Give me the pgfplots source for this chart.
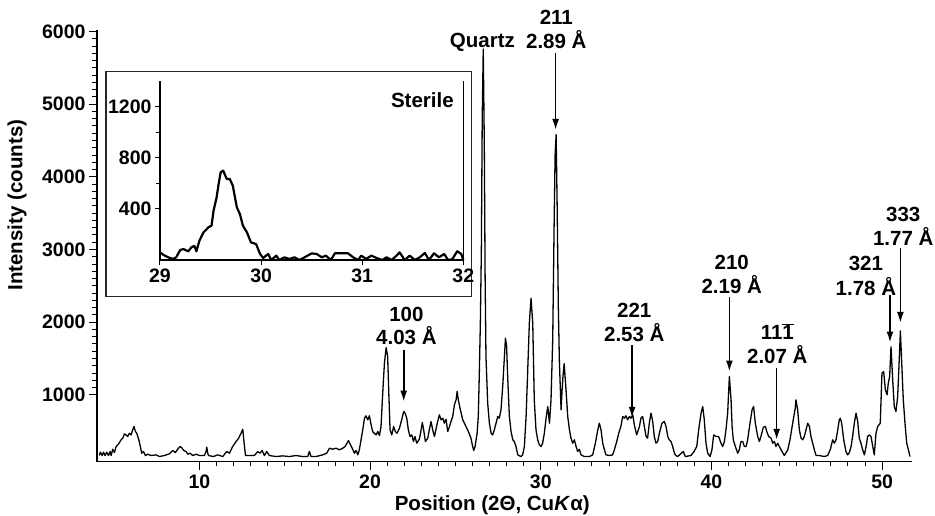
\documentclass[border=0pt]{standalone}
\usepackage{fontspec}
\setmainfont{Liberation Sans}
\usepackage{pgfplots}
\pgfplotsset{compat=1.18}
\usepackage{pgfplotstable}
\usetikzlibrary{arrows.meta}

% XRD pattern, 2theta (deg) vs counts
\pgfplotstableread{
x y
4.14 165
4.20 211
4.30 165
4.38 211
4.47 165
4.57 211
4.67 165
4.77 220
4.83 165
4.92 252
5.02 206
5.12 289
5.27 326
5.41 381
5.51 404
5.61 463
5.70 449
5.80 427
5.90 472
6.00 449
6.09 518
6.17 564
6.25 495
6.33 472
6.45 381
6.54 289
6.62 197
6.72 220
6.84 165
6.97 183
7.17 165
7.46 174
7.66 151
7.95 165
8.24 188
8.44 234
8.59 206
8.73 252
8.87 289
8.99 266
9.08 234
9.22 220
9.32 183
9.45 197
9.61 165
9.81 183
10.00 165
10.29 165
10.39 220
10.43 280
10.49 197
10.53 165
10.82 151
11.07 174
11.37 151
11.60 220
11.76 197
11.95 289
12.15 358
12.30 404
12.44 472
12.54 527
12.62 335
12.70 165
12.93 165
13.22 165
13.42 220
13.55 197
13.67 234
13.81 165
13.94 220
14.10 165
14.49 151
14.88 160
15.27 151
15.66 165
16.05 151
16.35 151
16.44 220
16.54 151
16.83 151
17.22 174
17.46 197
17.62 266
17.81 252
18.01 266
18.20 243
18.40 266
18.53 289
18.65 335
18.73 372
18.85 312
18.98 252
19.08 197
19.18 234
19.28 174
19.37 243
19.47 381
19.57 518
19.67 679
19.76 711
19.86 656
19.96 711
20.06 587
20.15 495
20.25 472
20.35 449
20.45 495
20.55 440
20.64 564
20.74 1023
20.84 1436
20.94 1650
21.03 1527
21.09 1069
21.17 518
21.27 449
21.38 564
21.48 495
21.58 472
21.72 541
21.85 656
21.97 771
22.05 748
22.15 679
22.24 518
22.34 427
22.44 449
22.54 358
22.63 427
22.73 335
22.89 390
22.99 518
23.06 619
23.14 518
23.24 358
23.38 404
23.47 518
23.57 633
23.67 518
23.77 427
23.86 527
23.96 633
24.06 725
24.16 656
24.26 679
24.35 610
24.45 665
24.55 495
24.65 564
24.74 633
24.84 702
24.94 862
25.04 931
25.10 1046
25.17 931
25.29 794
25.43 656
25.62 564
25.76 495
25.91 404
26.01 289
26.07 234
26.15 289
26.27 472
26.34 702
26.40 1298
26.46 1986
26.52 3000
26.57 4800
26.63 5760
26.69 4500
26.74 2600
26.79 1527
26.89 885
26.99 610
27.09 472
27.18 449
27.28 518
27.38 610
27.48 702
27.57 679
27.67 794
27.77 1115
27.87 1527
27.93 1780
28.00 1665
28.06 1252
28.16 702
28.26 495
28.36 381
28.45 358
28.55 289
28.65 174
28.84 151
28.94 174
29.04 289
29.14 702
29.23 1298
29.33 1986
29.43 2330
29.53 1986
29.62 931
29.72 518
29.82 381
29.92 312
30.02 289
30.11 335
30.21 472
30.31 679
30.41 839
30.51 610
30.60 931
30.70 1757
30.78 3300
30.84 4300
30.90 4580
30.96 3600
31.03 2200
31.09 1460
31.19 794
31.25 1069
31.30 1250
31.37 1430
31.48 1069
31.58 702
31.68 518
31.77 404
31.87 335
31.97 381
32.07 289
32.16 220
32.26 252
32.36 174
32.55 151
32.85 151
33.04 174
33.20 335
33.34 518
33.43 610
33.53 518
33.63 335
33.73 243
33.82 174
34.02 165
34.21 174
34.31 243
34.45 358
34.57 472
34.70 573
34.80 702
34.90 679
34.99 711
35.09 656
35.19 702
35.29 679
35.39 725
35.48 587
35.62 449
35.78 564
35.87 679
35.97 702
36.07 564
36.17 427
36.26 404
36.36 610
36.46 748
36.56 633
36.65 427
36.75 335
36.85 358
36.95 472
37.10 610
37.24 633
37.34 564
37.44 427
37.53 381
37.63 358
37.73 289
37.83 197
37.92 165
38.02 151
38.35 220
38.47 151
38.80 165
38.98 220
39.14 289
39.25 518
39.39 748
39.49 839
39.58 656
39.68 335
39.78 197
39.92 151
40.03 243
40.13 449
40.27 427
40.42 427
40.56 335
40.66 289
40.76 358
40.85 518
40.95 748
41.05 1250
41.15 931
41.21 564
41.28 381
41.40 289
41.54 197
41.63 243
41.73 358
41.83 358
41.93 289
42.03 289
42.12 381
42.26 610
42.38 794
42.47 839
42.57 610
42.71 427
42.81 358
42.90 427
43.04 555
43.16 564
43.24 495
43.35 427
43.49 404
43.59 335
43.69 358
43.78 289
43.88 335
43.98 289
44.08 243
44.27 165
44.47 243
44.60 381
44.76 610
44.91 817
44.95 931
45.05 794
45.15 518
45.25 404
45.35 381
45.44 427
45.54 518
45.64 610
45.74 564
45.83 427
45.93 335
46.03 243
46.13 165
46.32 165
46.61 151
46.81 165
46.97 252
47.10 381
47.20 335
47.30 381
47.40 518
47.49 656
47.55 679
47.63 610
47.75 381
47.88 220
47.98 174
48.08 206
48.18 289
48.27 427
48.37 610
48.47 748
48.57 633
48.66 404
48.76 335
48.86 243
48.96 174
49.06 289
49.15 427
49.25 449
49.35 427
49.45 289
49.54 174
49.64 472
49.74 564
49.89 610
49.99 1298
50.09 1321
50.19 1069
50.29 1000
50.36 1160
50.44 1252
50.52 1660
50.62 1206
50.71 839
50.81 771
50.91 977
51.01 1527
51.07 1880
51.14 1482
51.24 931
51.34 610
51.44 335
51.54 243
51.63 151
}\xrd

% inset: sterile sample, 29-32 deg
\pgfplotstableread{
x y
29.00 60
29.03 42
29.08 21
29.13 8
29.16 21
29.20 78
29.23 86
29.28 68
29.31 99
29.34 110
29.36 68
29.39 151
29.43 216
29.48 256
29.51 269
29.53 386
29.56 490
29.58 595
29.60 686
29.625 699
29.66 634
29.69 634
29.72 582
29.76 412
29.79 360
29.82 269
29.86 216
29.90 138
29.95 125
29.99 47
30.02 16
30.07 47
30.10 0
30.15 34
30.18 0
30.23 21
30.28 8
30.33 21
30.38 0
30.43 21
30.50 52
30.55 47
30.60 21
30.64 34
30.69 0
30.73 52
30.86 52
30.91 21
30.96 0
30.99 34
31.04 8
31.09 34
31.15 13
31.20 0
31.24 21
31.29 0
31.34 34
31.37 60
31.42 0
31.47 34
31.52 0
31.57 21
31.62 55
31.66 0
31.71 52
31.76 21
31.81 47
31.85 0
31.89 5
31.94 68
31.98 47
32.00 0
}\sterile

\newcommand{\lbl}{\fontsize{20.5}{24}\selectfont\bfseries}
\newcommand{\tkl}{\fontsize{19.5}{23}\selectfont\bfseries}

\begin{document}
\begin{tikzpicture}[font=\lbl]
\begin{axis}[
    at={(0pt,0pt)}, anchor=south west,
    scale only axis,
    width=815pt, height=432pt,
    xmin=4, xmax=51.75,
    ymin=80, ymax=6025,
    axis x line=bottom, axis y line=left,
    axis line style={-, line width=1.3pt},
    xtick={10,20,30,40,50},
    minor x tick num=9,
    ytick={1000,2000,3000,4000,5000,6000},
    minor y tick num=9,
    tick align=outside,
    major tick length=8pt, minor tick length=4.5pt,
    tick style={line width=1pt, black},
    tick label style={font=\tkl},
    xticklabel style={yshift=-2pt},
    /pgf/number format/assume math mode=true,
    /pgf/number format/1000 sep={},
    xlabel={Position (2Θ, Cu\textit{K}α)},
    ylabel={Intensity (counts)},
    xlabel style={at={(rel axis cs:0.485,-0.114)}, anchor=base},
    ylabel style={at={(rel axis cs:-0.098,0.594)}, anchor=center},
    clip=false,
]
\addplot[black, line width=1.3pt, line join=round] table[x=x, y=y] {\xrd};

\node[anchor=base] at (axis cs:26.58,5775) {Quartz};
\node[anchor=base] at (axis cs:30.91,6091) {211};
\node[anchor=base] at (axis cs:30.91,5761) {2.89 Å};
\node[anchor=base] at (axis cs:22.13,2004) {100};
\node[anchor=base] at (axis cs:22.13,1688) {4.03 Å};
\node[anchor=base] at (axis cs:35.48,2060) {221};
\node[anchor=base] at (axis cs:35.48,1729) {2.53 Å};
\node[anchor=base] at (axis cs:41.19,2720) {210};
\node[anchor=base] at (axis cs:41.19,2390) {2.19 Å};
\node[anchor=base] at (axis cs:43.86,1757) {11$\overline{\mbox{1}}$};
\node[anchor=base] at (axis cs:43.86,1427) {2.07 Å};
\node[anchor=base] at (axis cs:49.05,2710) {321};
\node[anchor=base] at (axis cs:49.05,2366) {1.78 Å};
\node[anchor=base] at (axis cs:51.24,3385) {333};
\node[anchor=base] at (axis cs:51.24,3054) {1.77 Å};

\begin{scope}[line width=1.6pt, -{Latex[length=11pt,width=7pt]}]
\draw (axis cs:30.87,5706) -- (axis cs:30.87,4646);
\draw (axis cs:21.97,1619) -- (axis cs:21.97,908);
\draw (axis cs:35.35,1688) -- (axis cs:35.35,684);
\draw (axis cs:41.05,2353) -- (axis cs:41.05,1321);
\draw (axis cs:43.82,1372) -- (axis cs:43.82,381);
\draw (axis cs:50.46,2376) -- (axis cs:50.46,1720);
\draw (axis cs:51.07,3023) -- (axis cs:51.07,1991);
\end{scope}
\end{axis}

% inset frame
\draw[black!85, line width=1.2pt, fill=white] (9pt,165pt) rectangle (374.7pt,390pt);

\begin{axis}[
    at={(63pt,201.7pt)}, anchor=south west,
    scale only axis,
    width=303.3pt, height=179pt,
    xmin=29, xmax=32, ymin=0, ymax=1400,
    axis x line=bottom, axis y line=left,
    axis line style={-, line width=1.2pt},
    xtick={29,30,31,32},
    ytick={400,800,1200},
    minor y tick num=1,
    tick align=outside,
    major tick length=5pt, minor tick length=4pt,
    tick style={line width=1pt, black},
    tick label style={font=\tkl},
    /pgf/number format/assume math mode=true,
    /pgf/number format/1000 sep={},
    clip=false,
]
\addplot[black, line width=2.2pt, line join=round] table[x=x, y=y] {\sterile};
\draw[line width=1pt] (rel axis cs:1,0) -- (rel axis cs:1,1);
\node[anchor=base east] at (axis cs:31.94,1189) {Sterile};
\end{axis}

\pgfresetboundingbox
\path (-97pt,-54.3pt) rectangle (838pt,461.7pt);
\end{tikzpicture}
\end{document}
